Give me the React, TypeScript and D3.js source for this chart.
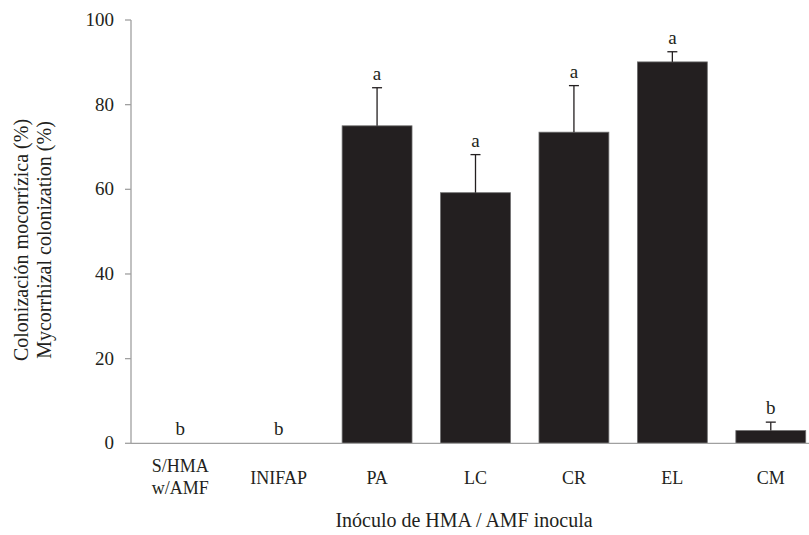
import React from "react";
import * as d3 from "d3";

const categories = ["S/HMA\nw/AMF", "INIFAP", "PA", "LC", "CR", "EL", "CM"];
const values = [0, 0, 75, 59.2, 73.5, 90.1, 3.0];
const errors = [0, 0, 9, 9, 11, 2.4, 2.0];
const letters = ["b", "b", "a", "a", "a", "a", "b"];
const yTicks = [0, 20, 40, 60, 80, 100];

const W = 809;
const H = 535;
const left = 131;
const right = 820;
const top = 20;
const bottom = 443.3;
const textColor = "#231f20";
const font = '"Liberation Serif", "DejaVu Serif", Times, serif';

export default function App() {
  const x = d3.scaleBand<string>().domain(categories).range([left, right]).paddingInner(0.29).paddingOuter(0.145);
  const y = d3.scaleLinear().domain([0, 100]).range([bottom, top]);
  return (
    <svg width={W} height={H} style={{ position: "absolute", left: 0, top: 0, fontFamily: font }}>
      <rect x={0} y={0} width={W} height={H} fill="#fff" />
      {categories.map((c, i) => {
        const bx = x(c)!;
        const bw = x.bandwidth();
        const cx = bx + bw / 2;
        const v = values[i];
        const e = errors[i];
        const capY = y(v + e);
        return (
          <g key={c}>
            {v > 0 && (
              <rect x={bx} y={y(v)} width={bw} height={bottom - y(v)} fill={textColor} stroke="#6d6d6d" strokeWidth={0.8} />
            )}
            {e > 0 && (
              <g stroke={textColor} strokeWidth={1.3}>
                <line x1={cx} x2={cx} y1={y(v)} y2={capY} />
                <line x1={cx - 5} x2={cx + 5} y1={capY} y2={capY} />
              </g>
            )}
            <text x={cx} y={(e > 0 ? capY : bottom) - 8} textAnchor="middle" fontSize={19} fill={textColor} style={{ fontFamily: font }}>
              {letters[i]}
            </text>
            {c.split("\n").map((line, j, arr) => (
              <text key={j} x={cx} y={(arr.length > 1 ? 472 : 484) + j * 22} textAnchor="middle" fontSize={18} fill={textColor} style={{ fontFamily: font }}>
                {line}
              </text>
            ))}
          </g>
        );
      })}
      <line x1={left} x2={left} y1={top} y2={bottom} stroke="#a0a0a0" strokeWidth={1.3} />
      <line x1={left} x2={right} y1={bottom} y2={bottom} stroke="#a0a0a0" strokeWidth={1.3} />
      {yTicks.map((t) => (
        <g key={t}>
          <line x1={left - 6} x2={left} y1={y(t)} y2={y(t)} stroke="#a0a0a0" strokeWidth={1.3} />
          <text x={left - 17} y={y(t) + 6} textAnchor="end" fontSize={19} fill={textColor} style={{ fontFamily: font }}>
            {t}
          </text>
        </g>
      ))}
      <text x={464} y={527} textAnchor="middle" fontSize={20} fill={textColor} style={{ fontFamily: font }}>
        Inóculo de HMA / AMF inocula
      </text>
      <g transform="translate(28, 240) rotate(-90)">
        <text x={0} y={0} textAnchor="middle" fontSize={20} fill={textColor} style={{ fontFamily: font }}>
          Colonización mocorrízica (%)
        </text>
        <text x={0} y={23} textAnchor="middle" fontSize={20} fill={textColor} style={{ fontFamily: font }}>
          Mycorrhizal colonization (%)
        </text>
      </g>
    </svg>
  );
}
